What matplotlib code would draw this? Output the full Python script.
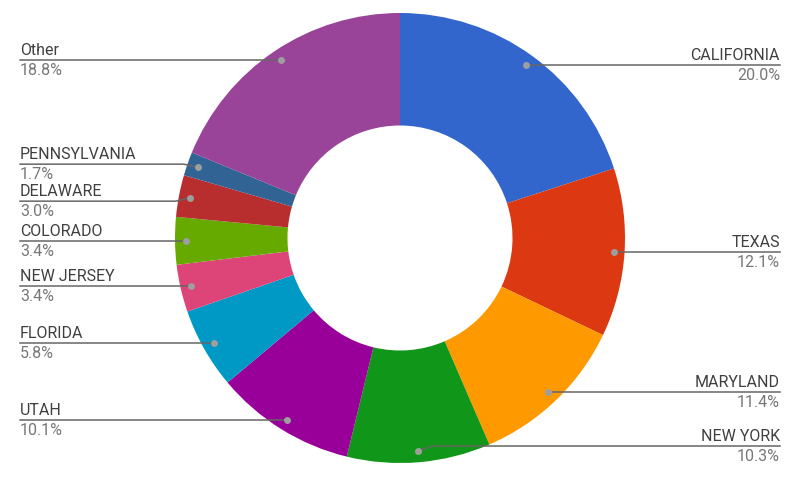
import numpy as np
import matplotlib.pyplot as plt

plt.rcParams['font.family'] = ['Roboto', 'DejaVu Sans']

# slices, clockwise from 12 o'clock
states = ['CALIFORNIA', 'TEXAS', 'MARYLAND', 'NEW YORK', 'UTAH', 'FLORIDA',
          'NEW JERSEY', 'COLORADO', 'DELAWARE', 'PENNSYLVANIA', 'Other']
shares = [20.0, 12.1, 11.4, 10.3, 10.1, 5.8, 3.4, 3.4, 3.0, 1.7, 18.8]
colors = ['#3366cc', '#dc3912', '#ff9900', '#109618', '#990099', '#0099c6',
          '#dd4477', '#66aa00', '#b82e2e', '#316395', '#994499']

W, H = 800, 485
cx, cy = 400, 239
R = 225
hole = 0.5

fig = plt.figure(figsize=(W / 100, H / 100), dpi=100)
ax = fig.add_axes([0, 0, 1, 1])

# y axis is inverted (pixel coords), so counterclock=True draws clockwise on screen
ax.pie(shares, colors=colors, startangle=-90, counterclock=True,
       center=(cx, cy), radius=R, wedgeprops=dict(width=R * (1 - hole), linewidth=0))

ax.set_xlim(0, W)
ax.set_ylim(H, 0)
ax.set_aspect('equal')
ax.axis('off')

# dot positions at slice mid-angle
frac = np.array(shares) / sum(shares)
mids = np.deg2rad(-90 + 360 * (np.cumsum(frac) - frac / 2))
rd = 214
dx = cx + rd * np.cos(mids)
dy = cy + rd * np.sin(mids)

# label rows: start at dot height, push apart where they collide
gap = 37
ly = dy.copy()
for side in (dx < cx, dx >= cx):
    idx = np.where(side)[0]
    idx = idx[np.argsort(dy[idx])]
    for _ in range(20):
        for a, b in zip(idx[:-1], idx[1:]):
            d = ly[b] - ly[a]
            if d < gap:
                m = (ly[a] + ly[b]) / 2
                ly[a], ly[b] = m - gap / 2, m + gap / 2
ly = np.clip(ly, 20, 447)

name_c = '#404040'
pct_c = '#777777'
line_c = '#666666'

for i, name in enumerate(states):
    left = dx[i] < cx
    tx = 20 if left else 780
    ha = 'left' if left else 'right'
    bend = dx[i] - 14 if left else dx[i] + 14
    ax.plot([tx, bend, dx[i]], [ly[i], ly[i], dy[i]], color=line_c, lw=1.1, zorder=3)
    ax.plot(dx[i], dy[i], 'o', ms=5, color='#9e9e9e', mec='none', zorder=4)
    ax.text(tx, ly[i] - 3, name, ha=ha, va='bottom', fontsize=11.5, color=name_c)
    ax.text(tx, ly[i] + 2, '%.1f%%' % shares[i], ha=ha, va='top', fontsize=11.5, color=pct_c)

fig.savefig('out.png', dpi=100)
